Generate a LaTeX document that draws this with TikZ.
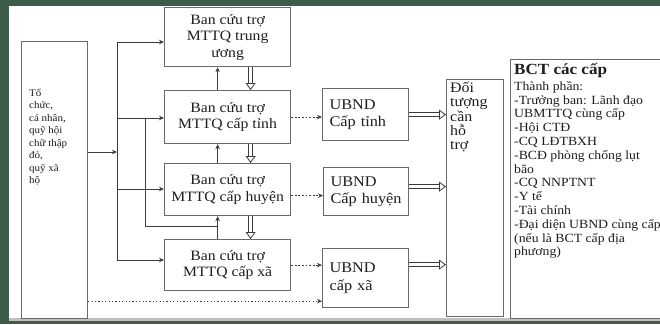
\documentclass[tikz,border=0pt]{standalone}
\usepackage{fontspec}
\setmainfont{Liberation Serif}[FakeStretch=1.1]
\usetikzlibrary{arrows.meta}
\definecolor{framegreen}{RGB}{61,92,73}
\definecolor{boxgray}{RGB}{105,105,105}
\definecolor{linegray}{RGB}{60,60,60}
\definecolor{txtgray}{RGB}{30,30,30}
\newcommand{\fs}[2]{\fontsize{#1}{#2}\selectfont}

\begin{document}
\begin{tikzpicture}[x=1pt,y=-1pt,>={Stealth[length=5pt,width=4.5pt]},
  box/.style={draw=boxgray,line width=1.2pt,fill=white,anchor=north west,inner sep=0pt,text=txtgray},
  ban/.style={box,align=center,font=\fs{14.3}{16.5}},
  ubnd/.style={box,align=left,inner xsep=7pt,font=\fs{14.8}{17.5}},
  txt/.style={anchor=north west,inner sep=0pt,align=left,text=txtgray},
  lnk/.style={draw=linegray,line width=0.9pt},
  dots/.style={lnk,->,dash pattern=on 1.8pt off 1.8pt},
  hollow/.style={preaction={draw=linegray,line width=0.8pt,double=white,double distance=3pt,shorten >=6.5pt},
    postaction={draw=white,line width=0.2pt,-{Triangle[length=7pt,width=10pt,line width=0.8pt,color=linegray,fill=white]}}}]
  \clip (0,0) rectangle (660,324);
  \fill[framegreen] (0,0) rectangle (660,324);
  \fill[white] (9,6) rectangle (660,318);
  \fill[gray!50] (9,318) rectangle (660,321);

  \node[box,minimum width=66pt,minimum height=277pt] (src) at (21,41) {};
  \node[txt,font=\fs{10}{12.5}] (srctxt) at (29,89) {Tổ\\chức,\\cá nhân,\\quỹ hội\\chữ thập\\đỏ,\\quỹ xã\\hộ};

  \node[ban,minimum width=126pt,minimum height=59pt] (bTW) at (164,7) {Ban cứu trợ\\MTTQ trung\\ương};
  \node[ban,minimum width=126pt,minimum height=53pt] (bT) at (164,90) {Ban cứu trợ\\MTTQ cấp tỉnh};
  \node[ban,minimum width=126pt,minimum height=52pt] (bH) at (164,163) {Ban cứu trợ\\MTTQ cấp huyện};
  \node[ban,minimum width=126pt,minimum height=51pt] (bX) at (164,239) {Ban cứu trợ\\MTTQ cấp xã};

  \node[ubnd,minimum width=86pt,minimum height=52pt,text width=72pt] (uT) at (322,88) {UBND\\Cấp tỉnh};
  \node[ubnd,minimum width=85pt,minimum height=48pt,text width=71pt] (uH) at (323,167) {UBND\\Cấp huyện};
  \node[ubnd,minimum width=86pt,minimum height=59pt,text width=72pt] (uX) at (322,248) {UBND\\cấp xã};

  \node[box,minimum width=57pt,minimum height=237pt] (dt) at (446,79) {};
  \node[txt,font=\fs{14.5}{14.2}] (dttxt) at (450,82) {Đối\\tượng\\cần\\hỗ\\trợ};

  \node[box,minimum width=160pt,minimum height=259pt] (bct) at (510,59) {};
  \node[txt,font=\bfseries\fs{15.5}{18}] (bcttitle) at (514,63) {BCT các cấp};
  \node[txt,font=\fs{12.5}{13.8}] (bcttxt) at (514,81) {Thành phần:\\-Trưởng ban: Lãnh đạo\\UBMTTQ cùng cấp\\-Hội CTĐ\\-CQ LĐTBXH\\-BCĐ phòng chống lụt\\bão\\-CQ NNPTNT\\-Y tế\\-Tài chính\\-Đại diện UBND cùng cấp\\(nếu là BCT cấp địa\\phương)};

  \coordinate (busT) at (117,42);
  \coordinate (busB) at (117,260);
  \coordinate (jn) at (117,152);
  \coordinate (t1) at (117,118);
  \coordinate (h1) at (117,189);
  \coordinate (r1) at (145,118);
  \coordinate (r2) at (145,226);

  \draw[lnk] (busT) -- (busB);
  \draw[lnk,->] (src.east |- jn) -- (jn);
  \draw[lnk,->] (busT) -- (bTW.west |- busT);
  \draw[lnk,->] (t1) -- (bT.west |- t1);
  \draw[lnk,->] (h1) -- (bH.west |- h1);
  \draw[lnk,->] (busB) -- (bX.west |- busB);
  \draw[lnk] (r1) -- (r2) -- ([xshift=-10pt]bX.north |- r2);

  \draw[lnk,->] ([xshift=-10pt]bT.north) -- ([xshift=-10pt]bTW.south);
  \draw[lnk,->] ([xshift=-10pt]bH.north) -- ([xshift=-10pt]bT.south);
  \draw[lnk,->] ([xshift=-10pt]bX.north) -- ([xshift=-10pt]bH.south);
  \path[hollow] ([xshift=23pt]bTW.south) -- ([xshift=23pt]bT.north);
  \path[hollow] ([xshift=23pt]bT.south) -- ([xshift=23pt]bH.north);
  \path[hollow] ([xshift=23pt]bH.south) -- ([xshift=23pt]bX.north);

  \draw[dots] (bT.east) -- (bT.east -| uT.west);
  \draw[dots] ([yshift=-6pt]bH.east) -- ([yshift=-6pt]bH.east -| uH.west);
  \draw[dots] (bX.east) -- (bX.east -| uX.west);
  \draw[dots,dash pattern=on 1.2pt off 2.2pt] ([yshift=18pt]src.south east) -- ([yshift=18pt]src.south east -| uX.west);

  \path[hollow] (uT.east) -- (uT.east -| dt.west);
  \path[hollow] ([yshift=5pt]uH.east) -- ([yshift=5pt]uH.east -| dt.west);
  \path[hollow] ([yshift=13.5pt]uX.east) -- ([yshift=13.5pt]uX.east -| dt.west);
\end{tikzpicture}
\end{document}
